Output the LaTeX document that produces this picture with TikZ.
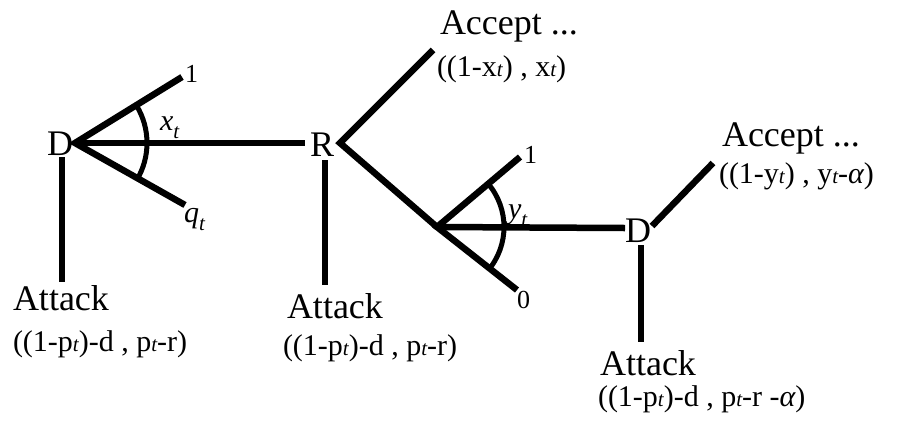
\documentclass[tikz,border=0pt]{standalone}
\usepackage{fontspec}
\setmainfont{Liberation Serif}
\newcommand{\myBig}{\fontsize{36}{40}\selectfont}
\newcommand{\myPay}{\fontsize{30}{34}\selectfont}
\newcommand{\myDig}{\fontsize{26}{30}\selectfont}
\newcommand{\mySmt}{{\fontsize{21}{22}\selectfont\itshape t}}
\newcommand{\myLab}[1]{{\fontsize{30}{34}\selectfont\itshape #1\raisebox{-8pt}{\fontsize{21}{22}\selectfont t}}}
\newcommand{\myAlf}{{\itshape α}}
\begin{document}
\begin{tikzpicture}[x=1pt,y=-1pt,
  edge/.style={line width=6.5pt},
  arcl/.style={line width=5pt},
  txt/.style={anchor=base west,inner sep=0pt,outer sep=0pt}]
\useasboundingbox (0,0) rectangle (909,421);
% vertices
\coordinate (d1) at (75,143);
\coordinate (rv) at (340,143);
\coordinate (rl) at (305,143);
\coordinate (c) at (437,227);
\coordinate (d2l) at (625,228);
\coordinate (d2r) at (652,226);
% free ends
\coordinate (d1one) at (182,77);
\coordinate (d1q) at (185,205);
\coordinate (d1att) at (62,282);
\coordinate (d1top) at (62,157);
\coordinate (racc) at (433,50);
\coordinate (rtop) at (325,160);
\coordinate (ratt) at (325,285);
\coordinate (cone) at (520,157);
\coordinate (czero) at (517,290);
\coordinate (d2acc) at (713,163);
\coordinate (d2top) at (641,245);
\coordinate (d2att) at (641,342);
% labels
\node[txt] (D1) at (47,155) {\myBig D};
\node[txt] (R) at (310,156) {\myBig R};
\node[txt] (D2) at (625,242) {\myBig D};
\node[txt] (one1) at (185,82) {\myDig 1};
\node[txt] (xt) at (160,130) {\myLab{x}};
\node[txt] (qt) at (184,222) {\myLab{q}};
\node[txt] (one2) at (524,163) {\myDig 1};
\node[txt] (zero) at (517,308) {\myDig 0};
\node[txt] (yt) at (508,218) {\myLab{y}};
\node[txt] (acc1) at (440,34) {\myBig Accept ...};
\node[txt] (pay1) at (437,76) {\myPay ((1-x\mySmt) , x\mySmt)};
\node[txt] (acc2) at (722,146) {\myBig Accept ...};
\node[txt] (pay2) at (719,183) {\myPay ((1-y\mySmt) , y\mySmt-\myAlf)};
\node[txt] (att1) at (13,310) {\myBig Attack};
\node[txt] (pay3) at (13,351) {\myPay ((1-p\mySmt)-d , p\mySmt-r)};
\node[txt] (att2) at (287,318) {\myBig Attack};
\node[txt] (pay4) at (283,355) {\myPay ((1-p\mySmt)-d , p\mySmt-r)};
\node[txt] (att3) at (600,375) {\myBig Attack};
\node[txt] (pay5) at (598,406) {\myPay ((1-p\mySmt)-d , p\mySmt-r -\myAlf)};
% edges
\draw[edge] (d1one) -- (d1) -- (d1q);
\draw[edge] (d1) -- (rl);
\draw[edge] (d1top) -- (d1att);
\draw[arcl] ([shift={(-31:72)}]d1) arc[start angle=-31,end angle=31,radius=72];
\draw[edge] (racc) -- (rv) -- (c);
\draw[edge] (rtop) -- (ratt);
\draw[edge] (cone) -- (c) -- (czero);
\draw[edge] (c) -- (d2l);
\draw[arcl] ([shift={(-40:67)}]c) arc[start angle=-40,end angle=40,radius=67];
\draw[edge] (d2r) -- (d2acc);
\draw[edge] (d2top) -- (d2att);
\end{tikzpicture}
\end{document}
